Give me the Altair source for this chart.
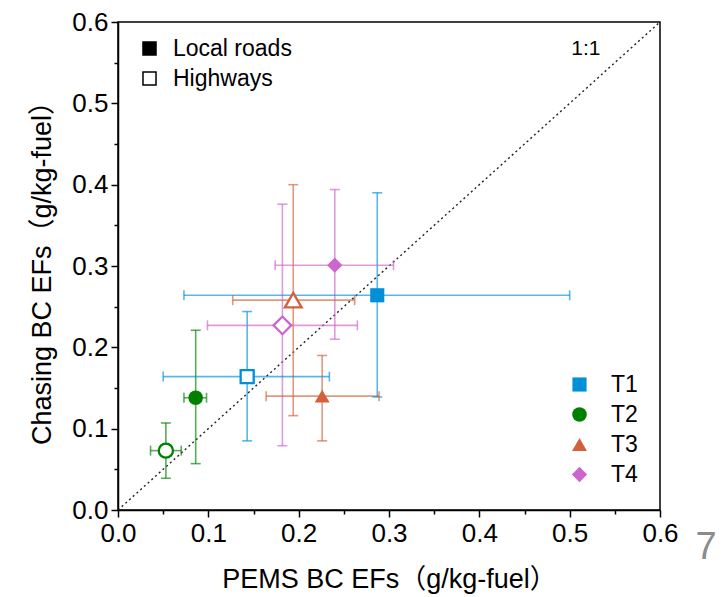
import altair as alt
import pandas as pd

FONT = "Liberation Sans, Arial, Noto Sans CJK SC"

series = ["T1", "T2", "T3", "T4"]
colors = ["#0090DA", "#008000", "#D2603A", "#CC66CC"]
shapes = ["square", "circle", "triangle-up", "diamond"]
sizes = [200, 235, 330, 370]
road_types = ["Local roads", "Highways"]

# Local roads (filled markers)
local_x = [0.287, 0.086, 0.226, 0.240]
local_x_lo = [0.073, 0.073, 0.164, 0.174]
local_x_hi = [0.500, 0.098, 0.289, 0.305]
local_y = [0.264, 0.138, 0.140, 0.301]
local_y_lo = [0.139, 0.057, 0.085, 0.210]
local_y_hi = [0.390, 0.221, 0.190, 0.394]

# Highways (open markers)
hw_x = [0.143, 0.053, 0.194, 0.182]
hw_x_lo = [0.050, 0.036, 0.127, 0.099]
hw_x_hi = [0.234, 0.070, 0.262, 0.265]
hw_y = [0.164, 0.073, 0.258, 0.227]
hw_y_lo = [0.085, 0.039, 0.116, 0.079]
hw_y_hi = [0.244, 0.107, 0.400, 0.376]

major_ticks = [0.0, 0.1, 0.2, 0.3, 0.4, 0.5, 0.6]
minor_ticks = [0.05, 0.15, 0.25, 0.35, 0.45, 0.55]
diag_vals = [0.0, 0.6]

rows = []
for i, s in enumerate(series):
    rows.append(dict(series=s, road="Local roads", x=local_x[i], x_lo=local_x_lo[i], x_hi=local_x_hi[i],
                     y=local_y[i], y_lo=local_y_lo[i], y_hi=local_y_hi[i],
                     col=colors[i], shp=shapes[i], sz=sizes[i]))
for i, s in enumerate(series):
    rows.append(dict(series=s, road="Highways", x=hw_x[i], x_lo=hw_x_lo[i], x_hi=hw_x_hi[i],
                     y=hw_y[i], y_lo=hw_y_lo[i], y_hi=hw_y_hi[i],
                     col=colors[i], shp=shapes[i], sz=sizes[i] * 0.85))
df = pd.DataFrame(rows)
diag_df = pd.DataFrame({"v": diag_vals})
ann_df = pd.DataFrame({"label": ["1:1"], "x": [0.518], "y": [0.567]})
page_df = pd.DataFrame({"label": ["7"], "x": [0.651], "y": [-0.047]})

xscale = alt.Scale(domain=[0, 0.6], nice=False, zero=False)
yscale = alt.Scale(domain=[0, 0.6], nice=False, zero=False)
color_scale = alt.Scale(domain=series, range=colors)
shape_scale = alt.Scale(domain=series, range=shapes)
size_scale = alt.Scale(domain=series, range=sizes)

series_legend = alt.Legend(title=None, orient="none", legendX=450, legendY=351,
                           labelFontSize=23, labelOffset=20, rowPadding=6,
                           symbolStrokeWidth=0, padding=0)

stroke_enc = alt.Stroke("col:N", scale=None)

main_x_axis = alt.Axis(values=major_ticks, format=".1f", tickSize=7, labelPadding=3, labelFlush=False,
                       title="PEMS BC EFs（g/kg-fuel）", titlePadding=20, grid=False, orient="bottom")
main_y_axis = alt.Axis(values=major_ticks, format=".1f", tickSize=7, labelPadding=3, labelFlush=False,
                       title="Chasing BC EFs（g/kg-fuel）", titlePadding=15, grid=False, orient="left")
minor_x_axis = alt.Axis(values=minor_ticks, tickSize=4, labels=False, domain=False, title=None,
                        grid=False, orient="bottom")
minor_y_axis = alt.Axis(values=minor_ticks, tickSize=4, labels=False, domain=False, title=None,
                        grid=False, orient="left")

base = alt.Chart(df)

diag = alt.Chart(diag_df).mark_line(strokeDash=[2, 3], color="#222222", strokeWidth=1.4).encode(
    x=alt.X("v:Q", scale=xscale, axis=minor_x_axis),
    y=alt.Y("v:Q", scale=yscale, axis=minor_y_axis),
)

bar_style = dict(strokeWidth=1.6, opacity=0.65)
vbar = base.mark_rule(**bar_style).encode(
    x=alt.X("x:Q", scale=xscale, axis=None), y=alt.Y("y_lo:Q", scale=yscale, axis=None),
    y2="y_hi:Q", stroke=stroke_enc)
hbar = base.mark_rule(**bar_style).encode(
    y=alt.Y("y:Q", scale=yscale, axis=None), x=alt.X("x_lo:Q", scale=xscale, axis=None),
    x2="x_hi:Q", stroke=stroke_enc)
cap_top = base.mark_rule(xOffset=-5, x2Offset=5, **bar_style).encode(
    x=alt.X("x:Q", scale=xscale, axis=None), x2="x:Q",
    y=alt.Y("y_hi:Q", scale=yscale, axis=None), stroke=stroke_enc)
cap_bot = base.mark_rule(xOffset=-5, x2Offset=5, **bar_style).encode(
    x=alt.X("x:Q", scale=xscale, axis=None), x2="x:Q",
    y=alt.Y("y_lo:Q", scale=yscale, axis=None), stroke=stroke_enc)
cap_left = base.mark_rule(yOffset=-5, y2Offset=5, **bar_style).encode(
    y=alt.Y("y:Q", scale=yscale, axis=None), y2="y:Q",
    x=alt.X("x_lo:Q", scale=xscale, axis=None), stroke=stroke_enc)
cap_right = base.mark_rule(yOffset=-5, y2Offset=5, **bar_style).encode(
    y=alt.Y("y:Q", scale=yscale, axis=None), y2="y:Q",
    x=alt.X("x_hi:Q", scale=xscale, axis=None), stroke=stroke_enc)

hw_points = base.transform_filter(alt.datum.road == "Highways").mark_point(
    filled=True, fill="white", strokeWidth=2.3, opacity=1).encode(
    x=alt.X("x:Q", scale=xscale, axis=None),
    y=alt.Y("y:Q", scale=yscale, axis=None),
    stroke=stroke_enc,
    shape=alt.Shape("shp:N", scale=None),
    size=alt.Size("sz:Q", scale=None),
)

local_points = base.transform_filter(alt.datum.road == "Local roads").mark_point(
    filled=True, opacity=1).encode(
    x=alt.X("x:Q", scale=xscale, axis=main_x_axis),
    y=alt.Y("y:Q", scale=yscale, axis=main_y_axis),
    color=alt.Color("series:N", scale=color_scale, legend=series_legend),
    shape=alt.Shape("series:N", scale=shape_scale, legend=series_legend),
    size=alt.Size("series:N", scale=size_scale, legend=series_legend),
)

road_legend_layer = base.transform_filter("false").mark_point(
    filled=True, shape="square", stroke="black", strokeWidth=1.5, size=170, opacity=1).encode(
    x=alt.X("x:Q", scale=xscale, axis=None),
    y=alt.Y("y:Q", scale=yscale, axis=None),
    fill=alt.Fill("road:N", scale=alt.Scale(domain=road_types, range=["black", "white"]),
                  legend=alt.Legend(title=None, orient="none", legendX=20, legendY=15,
                                    labelFontSize=23, labelOffset=12, rowPadding=6,
                                    symbolType="square", symbolSize=170,
                                    symbolStrokeColor="black", symbolStrokeWidth=1.5, padding=0)),
)

ann = alt.Chart(ann_df).mark_text(font=FONT, fontSize=21, color="black").encode(
    x=alt.X("x:Q", scale=xscale, axis=None), y=alt.Y("y:Q", scale=yscale, axis=None), text="label:N")
page = alt.Chart(page_df).mark_text(font=FONT, fontSize=38, color="#8c8c8c").encode(
    x=alt.X("x:Q", scale=xscale, axis=None), y=alt.Y("y:Q", scale=yscale, axis=None), text="label:N")

chart = alt.layer(
    diag, vbar, hbar, cap_top, cap_bot, cap_left, cap_right,
    hw_points, local_points, road_legend_layer, ann, page
).resolve_axis(x="independent", y="independent").properties(
    width=542, height=488,
    padding={"left": 118, "top": 22, "right": 68, "bottom": 87},
    autosize=alt.AutoSizeParams(type="none"),
).configure_view(stroke="black", strokeWidth=1.5).configure_axis(
    domainColor="black", domainWidth=1.5, tickColor="black", tickWidth=1.5,
    labelFont=FONT, titleFont=FONT, labelFontSize=26, titleFontSize=27,
    labelColor="black", titleColor="black", titleFontWeight="normal",
).configure_legend(labelFont=FONT, labelColor="black")

chart.save("out.html", embed_options={"renderer": "svg", "actions": False})
